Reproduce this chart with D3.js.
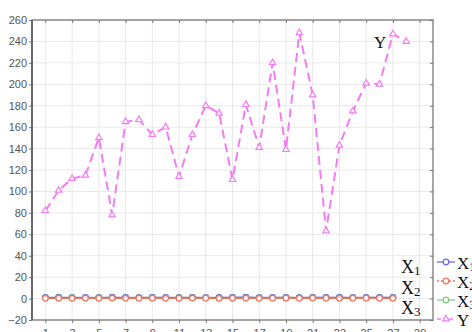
<!DOCTYPE html>
<html>
  <head>
    <meta charset="utf-8">
    <title></title>
    <style>
      body { margin: 0; background: #fff; }
      svg { display: block; }
    </style>
  </head>
  <body>
    <svg id="chart" width="472" height="332"></svg>
    <script src="https://d3js.org/d3.v7.min.js"></script>
    <script>
      // data
      const idxY = d3.range(1, 29)
      const idxX = d3.range(1, 28)
      const yVals = [82, 101, 112, 115, 150, 78, 165, 167, 153, 160, 114, 153, 180, 173, 111,
                     181, 141, 220, 139, 248, 190, 63, 143, 175, 201, 200, 247, 240]
      const x1Vals = [0.9, 1.0, 0.8, 1.1, 0.9, 1.2, 1.0, 0.9, 1.1, 1.0, 0.8, 1.0, 0.9, 1.1, 1.0,
                      1.3, 0.9, 1.0, 1.1, 0.9, 1.0, 1.1, 1.0, 0.9, 1.0, 1.1, 1.0]
      const x2Vals = [0.2, 0.3, 0.2, 0.4, 0.3, 0.5, 0.2, 0.3, 0.4, 0.2, 0.3, 0.5, 0.3, 0.2, 0.3,
                      0.4, 0.2, 0.3, 0.4, 0.3, 0.5, 0.3, 0.2, 0.3, 0.4, 0.3, 0.2]
      const x3Vals = [1.1, 1.2, 1.0, 0.9, 1.0, 1.1, 0.9, 1.0, 1.0, 0.9, 1.0, 1.1, 1.0, 0.9, 1.0,
                      1.1, 1.0, 0.9, 1.0, 1.0, 1.1, 0.9, 1.0, 1.0, 0.9, 1.0, 1.0]
      const xTicks = d3.range(1, 30, 2)
      const yTicks = d3.range(-20, 261, 20)
      const legendNames = ["X1", "X2", "X3", "Y"]
      const colors = { X1: "#6f6fe0", X2: "#ec7a60", X3: "#84c884", Y: "#f37cf3" }

      const svg = d3.select("#chart")
      const L = 32, R = 433, T = 20, B = 320

      const x = d3.scaleLinear().domain([0, 30]).range([L, R])
      const y = d3.scaleLinear().domain([-20, 260]).range([B, T])

      // grid
      svg.append("g").selectAll("line").data(xTicks).join("line")
        .attr("x1", d => x(d)).attr("x2", d => x(d))
        .attr("y1", T).attr("y2", B)
        .attr("stroke", "#e8e8e8").attr("stroke-width", 1)
      svg.append("g").selectAll("line").data(yTicks).join("line")
        .attr("x1", L).attr("x2", R)
        .attr("y1", d => y(d)).attr("y2", d => y(d))
        .attr("stroke", "#e8e8e8").attr("stroke-width", 1)

      // frame
      svg.append("rect")
        .attr("x", L).attr("y", T).attr("width", R - L).attr("height", B - T)
        .attr("fill", "none").attr("stroke", "#8a8a8a").attr("stroke-width", 1.5)

      const axisStyle = g => {
        g.select(".domain").remove()
        g.selectAll(".tick line").attr("stroke", "#777")
        g.selectAll(".tick text").attr("fill", "#555")
          .style("font-family", "Liberation Sans, Arial, sans-serif").style("font-size", "11px")
      }

      svg.append("g").attr("transform", `translate(${L},0)`)
        .call(d3.axisLeft(y).tickValues(yTicks).tickSize(3).tickPadding(2))
        .call(axisStyle)
      svg.append("g").attr("transform", `translate(0,${B})`)
        .call(d3.axisBottom(x).tickValues(xTicks).tickSize(3).tickPadding(6))
        .call(axisStyle)
      svg.append("g").attr("transform", `translate(0,${T})`)
        .call(d3.axisBottom(x).tickValues(xTicks).tickSize(3).tickFormat(""))
        .call(axisStyle)
      svg.append("g").attr("transform", `translate(${R},0)`)
        .call(d3.axisLeft(y).tickValues(yTicks).tickSize(3).tickFormat(""))
        .call(axisStyle)
      // left axis line darker
      svg.append("line").attr("x1", L).attr("x2", L).attr("y1", T).attr("y2", B)
        .attr("stroke", "#555").attr("stroke-width", 1.5)

      const line = d3.line().x(d => x(d[0])).y(d => y(d[1]))

      function circleSeries(vals, color) {
        const pts = idxX.map((i, k) => [i, vals[k]])
        svg.append("path").datum(pts).attr("d", line)
          .attr("fill", "none").attr("stroke", color).attr("stroke-width", 1.3)
        svg.append("g").selectAll("circle").data(pts).join("circle")
          .attr("cx", d => x(d[0])).attr("cy", d => y(d[1])).attr("r", 2.8)
          .attr("fill", "#fff").attr("stroke", color).attr("stroke-width", 1.3)
      }
      circleSeries(x3Vals, colors.X3)
      circleSeries(x1Vals, colors.X1)
      circleSeries(x2Vals, colors.X2)

      const tri = d3.symbol().type(d3.symbolTriangle).size(18)
      const ptsY = idxY.map((i, k) => [i, yVals[k]])
      svg.append("path").datum(ptsY).attr("d", line)
        .attr("fill", "none").attr("stroke", colors.Y).attr("stroke-width", 2)
        .attr("stroke-dasharray", "9,5")
      svg.append("g").selectAll("path").data(ptsY).join("path")
        .attr("d", tri)
        .attr("transform", d => `translate(${x(d[0])},${y(d[1])})`)
        .attr("fill", "#fff").attr("stroke", colors.Y).attr("stroke-width", 1.2)

      // labels inside plot
      const serif = "Liberation Serif, Times New Roman, serif"
      function subLabel(g, name, px, py, size) {
        const t = g.append("text").attr("x", px).attr("y", py)
          .style("font-family", serif).style("font-size", size + "px").attr("fill", "#111")
        t.append("tspan").text(name[0])
        if (name.length > 1) {
          t.append("tspan").attr("dy", 2).style("font-size", (size - 5) + "px").text(name.slice(1))
        }
      }
      svg.append("text").attr("x", 374).attr("y", 48).text("Y")
        .style("font-family", serif).style("font-size", "17px").attr("fill", "#111")
      subLabel(svg, "X1", 401, 273, 18)
      subLabel(svg, "X2", 401, 294, 18)
      subLabel(svg, "X3", 401, 314, 18)

      // legend (runs off the right edge, as in the source)
      const leg = svg.append("g")
      legendNames.forEach((n, k) => {
        const ly = 262 + k * 19
        const c = colors[n]
        leg.append("line").attr("x1", 437).attr("x2", 455).attr("y1", ly).attr("y2", ly)
          .attr("stroke", c).attr("stroke-width", 1.3)
          .attr("stroke-dasharray", n === "Y" ? "4,2" : (n === "X2" ? "2,2" : null))
        if (n === "Y") {
          leg.append("path").attr("d", tri).attr("transform", `translate(446,${ly})`)
            .attr("fill", "#fff").attr("stroke", c).attr("stroke-width", 1.2)
        } else {
          leg.append("circle").attr("cx", 446).attr("cy", ly).attr("r", 2.8)
            .attr("fill", "#fff").attr("stroke", c).attr("stroke-width", 1.3)
        }
        subLabel(leg, n, 457, ly + 7, 17)
      })
    </script>
  </body>
</html>
